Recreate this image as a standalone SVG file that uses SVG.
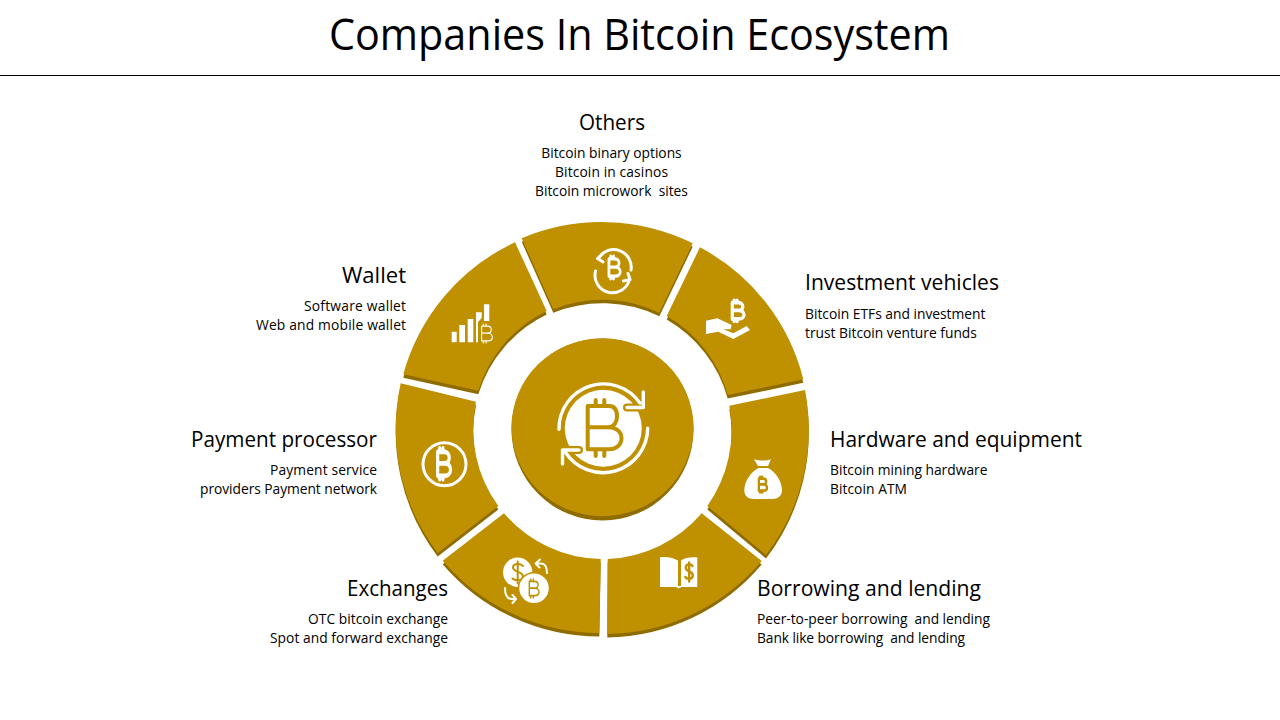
<svg xmlns="http://www.w3.org/2000/svg" width="1280" height="720" viewBox="0 0 1280 720">
<style>
text{font-family:"Open Sans","Noto Sans","Liberation Sans",sans-serif;fill:#000;white-space:pre}
.title{font-size:43px}
.h{font-size:21px}
.b{font-size:13.8px}
.e{text-anchor:end}
.m{text-anchor:middle}
.face{fill:#bf9000}
.dark{fill:#8f6c00}
.w{fill:#fff}
.ws{fill:none;stroke:#fff;stroke-linecap:round;stroke-linejoin:round}
.gs{fill:none;stroke:#bf9000;stroke-linecap:round;stroke-linejoin:round}
</style>
<defs>
<path id="btc" d="M-7-12H3.500C8-12 10.500-9 10.500-6C10.500-3 8-.5 4-.5H-7M4-.5C9-.5 12.500 2.500 12.500 6C12.500 9.500 9 12 4 12H-7V-12M-4-12V-15.500M1-12V-15.500M-4 12V15.500M1 12V15.500"/>
</defs>
<rect width="1280" height="720" fill="#fff"/>
<text class="title m" x="639.500" y="50" textLength="621" lengthAdjust="spacingAndGlyphs">Companies In Bitcoin Ecosystem</text>
<rect x="0" y="75" width="1280" height="1" fill="#000"/>

<g id="node-center">
<circle class="dark" cx="602.500" cy="429.500" r="91"/>
<ellipse class="face" cx="602.500" cy="427.300" rx="91" ry="89"/>
<circle class="w" cx="603.300" cy="428.300" r="38.500"/>
<path class="gs" stroke-width="4" d="M587.700 406H609C615 406 617 411 617 416.500C617 422 614 427.300 608 427.300H587.700M608 427.300C616 427.300 621.500 431.500 621.500 438C621.500 445 616 449.300 609 449.300H587.700V406M595.700 406V400M604.300 406V400M595.700 449.300V456M604.300 449.300V456"/>
<path class="gs" stroke-width="8" d="M627 407.500H643.300"/>
<path class="gs" stroke-width="8" d="M562.500 450H579"/>
<path class="ws" stroke-width="3.400" d="M559 429.300A44.500 44.500 0 0 1 640 403M643.300 392V407.500H627"/>
<path class="ws" stroke-width="3.400" d="M647.700 428.300A44.800 44.800 0 0 1 565.500 452.500M562.500 464V450H579"/>
</g>

<g id="node-others">
<path class="dark" transform="translate(0,3.500)" d="M521.700 238.300A206 206 0 0 1 692.700 243.300L659.300 312.700A131 131 0 0 0 553.300 309.300Z"/>
<path class="face" d="M521.700 238.300A206 206 0 0 1 692.700 243.300L659.300 312.700A131 131 0 0 0 553.300 309.300Z"/>
<path class="ws" stroke-width="3" d="M598.500 258.500A17.500 17.500 0 0 1 631 270M595.500 271A17.500 17.500 0 0 0 629.500 279.500"/>
<path class="ws" stroke-width="3" d="M602.500 254L597.500 258.500L603 262M623.500 281L630 279.500L628 273.500"/>
<use href="#btc" class="ws" stroke-width="4.800" transform="translate(613,267.500) scale(.58,.72)"/>
<text class="h m" x="612" y="130" textLength="66" lengthAdjust="spacingAndGlyphs">Others</text>
<text class="b m" x="611.500" y="158">Bitcoin binary options</text>
<text class="b m" x="611.500" y="177" textLength="113">Bitcoin in casinos</text>
<text class="b m" x="611.500" y="196">Bitcoin microwork  sites</text>
</g>

<g id="node-investment">
<path class="dark" transform="translate(0,3.500)" d="M700 247.300A206 206 0 0 1 803.300 379.300L727.700 395A131 131 0 0 0 666.700 316Z"/>
<path class="face" d="M700 247.300A206 206 0 0 1 803.300 379.300L727.700 395A131 131 0 0 0 666.700 316Z"/>
<use href="#btc" class="ws" stroke-width="5.400" transform="translate(736.500,310.800) scale(.6,.68)"/>
<path class="w" d="M706 320.700L717.300 318.300L731.700 325L730.700 329.300H723.300L733.300 333.300L746.700 326L750 330L733.300 339L718.300 331.700L706 334Z"/>
<text class="h" x="805" y="290" textLength="194" lengthAdjust="spacingAndGlyphs">Investment vehicles</text>
<text class="b" x="805" y="319">Bitcoin ETFs and investment</text>
<text class="b" x="805" y="338">trust Bitcoin venture funds</text>
</g>

<g id="node-hardware">
<path class="dark" transform="translate(0,3.500)" d="M805 390A206 206 0 0 1 766 555L707.300 506A131 131 0 0 0 729.300 405.700Z"/>
<path class="face" d="M805 390A206 206 0 0 1 766 555L707.300 506A131 131 0 0 0 729.300 405.700Z"/>
<path class="w" d="M754 459.300C759 461 767 461 771 459.300L768 466H758ZM758.500 468H768C776 472 782 482 782 490C782 496 778 499 772 499H754C748 499 744.300 496 744.300 490C744.300 482 750.500 472 758.500 468Z"/>
<use href="#btc" class="gs" stroke-width="5.500" transform="translate(761.800,484.700) scale(.42,.5)"/>
<text class="h" x="830" y="447" textLength="252" lengthAdjust="spacingAndGlyphs">Hardware and equipment</text>
<text class="b" x="830" y="475">Bitcoin mining hardware</text>
<text class="b" x="830" y="494" textLength="77">Bitcoin ATM</text>
</g>

<g id="node-borrowing">
<path class="dark" transform="translate(0,3.500)" d="M761.700 561A206 206 0 0 1 607.300 634L607.700 559A131 131 0 0 0 701.700 513.300Z"/>
<path class="face" d="M761.700 561A206 206 0 0 1 607.300 634L607.700 559A131 131 0 0 0 701.700 513.300Z"/>
<path class="w" d="M660 557.300C665 556.500 672 557 678 560.500V586H681V560.500C685 557.500 691 557.300 697.300 557.300V587H681.500L678.800 588.500L676 587H660Z"/>
<path class="gs" stroke-width="2.400" d="M692.500 566C690.500 563.500 685.800 563.500 685.800 567.800C685.800 572.300 692.800 570.500 692.800 575.500C692.800 579.500 687 579.500 685.300 577M689.200 562.500V581.500"/>
<text class="h" x="757" y="596" textLength="224" lengthAdjust="spacingAndGlyphs">Borrowing and lending</text>
<text class="b" x="757" y="624" textLength="233">Peer-to-peer borrowing  and lending</text>
<text class="b" x="757" y="643" textLength="208">Bank like borrowing  and lending</text>
</g>

<g id="node-exchanges">
<path class="dark" transform="translate(0,3.500)" d="M600.700 559L599.300 633A206 206 0 0 1 442.700 560.700L504 513.300A131 131 0 0 0 600.700 559Z"/>
<path class="face" d="M600.700 559L599.300 633A206 206 0 0 1 442.700 560.700L504 513.300A131 131 0 0 0 600.700 559Z"/>
<circle class="w" cx="517.700" cy="572.300" r="14.700"/>
<path class="gs" stroke-width="2" d="M523 566C521 563 513 563 513 567.500C513 572.500 523 571 523 576.500C523 581 515 581 512.500 578.500M517.700 561.500V583.500"/>
<circle class="w" stroke="#bf9000" stroke-width="1.500" cx="534" cy="588.300" r="15.500"/>
<use href="#btc" class="gs" stroke-width="2.800" transform="translate(532.800,588.500) scale(.5,.6)"/>
<path class="ws" stroke-width="2" d="M540 559.500L535.500 563.500L539.500 567.500M535.500 563.500H541C545.500 563.500 547 567 547 573M505 588C505 595 507 599 512 599H516M512.500 595L516 599L512.500 603"/>
<text class="h e" x="448" y="596" textLength="101" lengthAdjust="spacingAndGlyphs">Exchanges</text>
<text class="b e" x="448" y="624" textLength="140">OTC bitcoin exchange</text>
<text class="b e" x="448" y="643" textLength="178">Spot and forward exchange</text>
</g>

<g id="node-payment">
<path class="dark" transform="translate(0,3.500)" d="M400.700 383.300L476 401.700A131 131 0 0 0 498.300 506L437.700 553A206 206 0 0 1 400.700 383.300Z"/>
<path class="face" d="M400.700 383.300L476 401.700A131 131 0 0 0 498.300 506L437.700 553A206 206 0 0 1 400.700 383.300Z"/>
<circle class="ws" stroke-width="3" cx="444.500" cy="464.200" r="21.500"/>
<use href="#btc" class="ws" stroke-width="4.800" transform="translate(442.300,463.800) scale(.66,1)"/>
<text class="h e" x="377" y="447" textLength="186" lengthAdjust="spacingAndGlyphs">Payment processor</text>
<text class="b e" x="377" y="475" textLength="107">Payment service</text>
<text class="b e" x="377" y="494" textLength="177">providers Payment network</text>
</g>

<g id="node-wallet">
<path class="dark" transform="translate(0,3.500)" d="M515 242.300L546.700 311A131 131 0 0 0 478.300 390.700L403.300 374.300A206 206 0 0 1 515 242.300Z"/>
<path class="face" d="M515 242.300L546.700 311A131 131 0 0 0 478.300 390.700L403.300 374.300A206 206 0 0 1 515 242.300Z"/>
<path class="w" d="M451.700 331.700h5V342.300h-5ZM459.300 325h5.700V342.300h-5.700ZM467.700 319h5.600V342.300h-5.600ZM476 312.300h5.700V318L478 322V342.300h-2ZM484 304.300h5.300V321H484Z"/>
<use href="#btc" class="ws" stroke-width="2" transform="translate(485.500,333.500) scale(.55,.62)"/>
<text class="h e" x="406" y="283" textLength="64" lengthAdjust="spacingAndGlyphs">Wallet</text>
<text class="b e" x="406" y="311" textLength="102">Software wallet</text>
<text class="b e" x="406" y="330" textLength="150">Web and mobile wallet</text>
</g>
</svg>
